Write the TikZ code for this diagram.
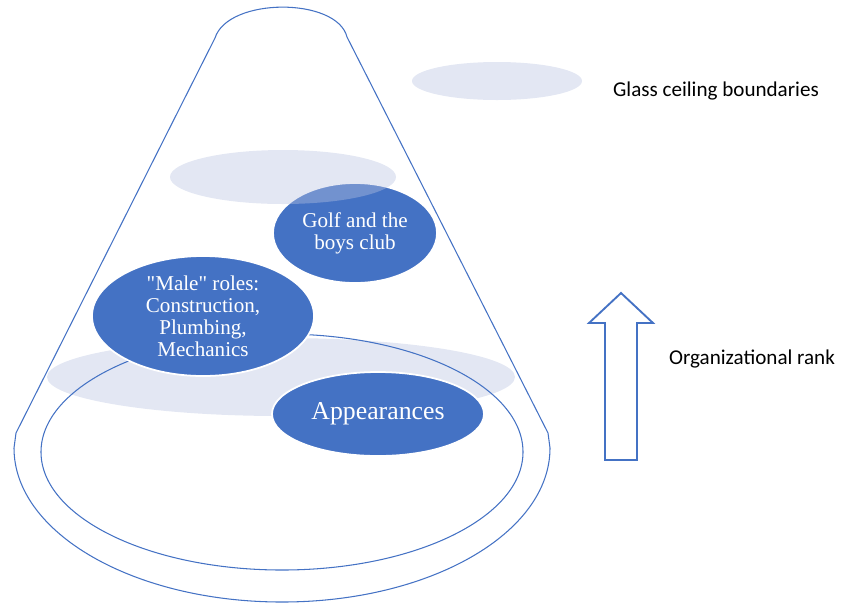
\documentclass[tikz,border=0pt]{standalone}
\usepackage{fontspec}
\newfontfamily\bubblefont{Liberation Serif}
\newfontfamily\calibri{Carlito}
\usetikzlibrary{shapes.geometric}
\definecolor{accent}{HTML}{4472C4}
\definecolor{ceiling}{RGB}{185,195,225}

\begin{document}
\begin{tikzpicture}[x=0.03cm, y=0.03cm,
    blob/.style={ellipse, fill=accent, draw=white, line width=1.5pt, text=white,
        inner sep=0pt, align=center, font=\bubblefont\fontsize{18}{18.8}\selectfont},
    glass/.style={fill=ceiling, fill opacity=0.4},
    outline/.style={draw=accent, line width=0.9pt},
    side/.style={font=\calibri\fontsize{18}{20}\selectfont}]

    \useasboundingbox (0,-603) rectangle (850,0);

    % Lower and upper glass ceilings (behind everything)
    \fill[glass] (281,-377) ellipse [x radius=234, y radius=39];
    \fill[glass] (497,-81) ellipse [x radius=85, y radius=19];

    % Flask outline: rounded top, straight sides, bowl at the bottom
    \draw[outline] (550,-448) -- (548,-433) -- (347,-37)
        .. controls (337,3) and (228,3) .. (215,-38)
        -- (16,-433) -- (14,-448)
        arc [start angle=180, end angle=360, x radius=268, y radius=154];

    % Inner rim of the bowl
    \draw[outline] (282,-452) ellipse [x radius=241, y radius=118];

    % Barriers
    \node[blob, minimum width=6.66cm, minimum height=3.6cm] (male) at (203,-316)
        {"Male" roles:\\Construction,\\Plumbing,\\Mechanics};
    \node[blob, minimum width=4.92cm, minimum height=3cm] (golf) at (355,-233)
        {Golf and the\\boys club};
    \node[blob, minimum width=6.36cm, minimum height=2.52cm,
        font=\bubblefont\fontsize{22}{24}\selectfont] (appear) at (378,-414) {Appearances};

    % Middle glass ceiling, over the golf bubble
    \fill[glass] (283,-177) ellipse [x radius=113, y radius=27];

    % Rank arrow
    \draw[accent, line width=1.6pt] (605,-460) -- (605,-323) -- (589,-323)
        -- (621,-293) -- (653,-323) -- (637,-323) -- (637,-460) -- cycle;

    % Side labels
    \node[side] (ceil) at (716,-91) {Glass ceiling boundaries};
    \node[side] (rank) at (752,-359) {Organizational rank};
\end{tikzpicture}
\end{document}
